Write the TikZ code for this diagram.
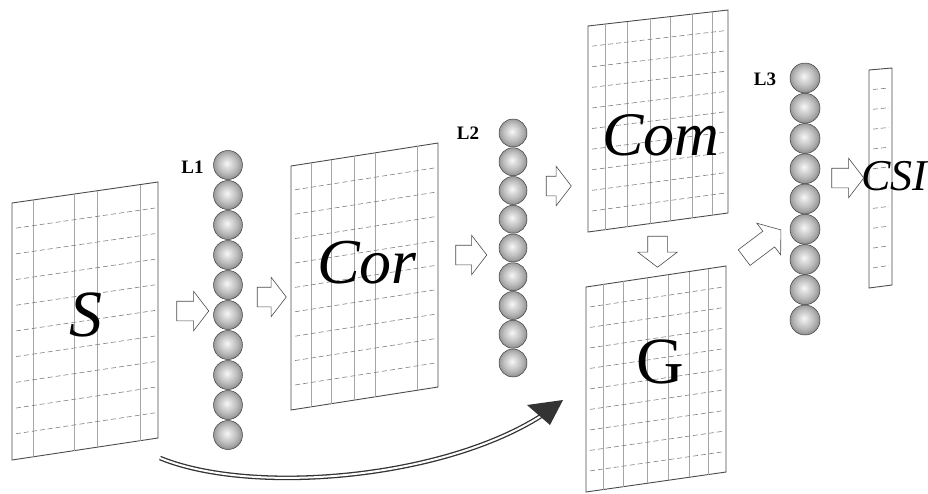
\documentclass[tikz,border=0pt]{standalone}
\usepackage{fontspec}
\newfontfamily\tnr{Liberation Serif}
\usetikzlibrary{shapes.arrows}
\pgfdeclareradialshading{sph}{\pgfpoint{-2bp}{3bp}}{%
  color(0bp)=(white!97!black);
  color(6bp)=(white!88!black);
  color(16bp)=(white!74!black);
  color(23bp)=(white!62!black);
  color(25bp)=(white!55!black);
  color(50bp)=(white!55!black)}
\tikzset{
  panel/.style={draw=gray!60!black, line width=0.9pt, fill=white},
  vline/.style={draw=gray!70, line width=0.6pt},
  hline/.style={draw=black!50, line width=0.6pt, dash pattern=on 5pt off 3pt},
  ballnode/.style={circle, inner sep=0pt, minimum size=#1, shading=sph, draw=gray!50!black, line width=0.5pt},
  harrow/.style={single arrow, draw=gray!60!black, fill=white, line width=0.6pt, inner sep=0pt,
    text height=19pt, text depth=0pt, minimum width=39pt,
    single arrow head extend=10pt, single arrow tip angle=105, single arrow head indent=0pt},
  biglab/.style={anchor=base, inner sep=0pt},
  curvearrow/.style={draw=gray!40!black, line width=1.3pt, double=white, double distance=2pt},
  curvehead/.style={fill=gray!40!black}
}
% #1 L, #2 R, #3 top-left y, #4 top-right y, #5 bottom-left y, #6 bottom-right y, #7 inner x list, #8 dashed count
\newcommand\gridpanel[8]{%
  \draw[panel] (#1,#3) -- (#2,#4) -- (#2,#6) -- (#1,#5) -- cycle;
  \foreach \vx in {#7} {
    \pgfmathsetmacro\ff{(\vx-#1)/(#2-#1)}
    \draw[vline] (\vx,{#3+\ff*(#4-#3)}) -- (\vx,{#5+\ff*(#6-#5)});
  }
  \foreach \ii in {1,...,#8} {
    \pgfmathsetmacro\ff{\ii/(#8+1)}
    \pgfmathsetmacro\slp{(#4-#3)/(#2-#1)}
    \draw[hline] (#1+4,{#3+\ff*(#5-#3)+4*\slp}) -- (#2-3,{#4+\ff*(#6-#4)-3*\slp});
  }
}
\begin{document}
\begin{tikzpicture}[x=1pt, y=-1pt]
\useasboundingbox (0,0) rectangle (928,493);

% panels
\gridpanel{12}{158}{203}{182}{460}{438}{33,74,97,140}{9}
\gridpanel{291}{438}{166}{143}{410}{387}{311,331,354,375,417}{9}
\gridpanel{588}{728}{26}{10}{232}{213}{605,627,650,670,692,712}{9}
\gridpanel{586}{726}{287}{266}{492}{472}{603,623,647,668,689,708}{9}
\gridpanel{869}{892}{70}{68}{288}{285}{}{10}

% panel labels
\node[biglab] (tS) at (86,336) {\fontsize{66}{66}\selectfont\tnr\itshape S};
\node[biglab] (tCor) at (367,283) {\fontsize{64}{64}\selectfont\tnr\itshape Cor};
\node[biglab] (tCom) at (661,155) {\fontsize{62}{62}\selectfont\tnr\itshape Com};
\node[biglab] (tG) at (660,383) {\fontsize{66}{66}\selectfont\tnr G};
\node[biglab] (tCSI) at (894,190) {\fontsize{44}{44}\selectfont\tnr\itshape CSI};

% neuron layers
\foreach \i in {0,...,9} \node[ballnode=29pt] (n1-\i) at (228,{165+30*\i}) {};
\foreach \i in {0,...,8} \node[ballnode=28pt] (n2-\i) at (513,{133+28.75*\i}) {};
\foreach \i in {0,...,8} \node[ballnode=30pt] (n3-\i) at (805,{78+30.25*\i}) {};

\node[biglab] (L1) at (192.5,173) {\fontsize{19}{19}\selectfont\tnr\bfseries L1};
\node[biglab] (L2) at (468,139) {\fontsize{19}{19}\selectfont\tnr\bfseries L2};
\node[biglab] (L3) at (765,85) {\fontsize{19}{19}\selectfont\tnr\bfseries L3};

% hollow arrows
\node[harrow, minimum height=32pt] (a1) at (189,311) {};
\node[harrow, minimum height=29pt] (a2) at (268,297) {};
\node[harrow, minimum height=31pt] (a3) at (467.5,255) {};
\node[harrow, minimum height=25pt] (a4) at (555,186) {};
\node[harrow, minimum height=31pt, rotate=-90] (a5) at (657.5,248) {};
\node[harrow, minimum height=46pt, rotate=37] (a6) at (759.5,246) {};
\node[harrow, minimum height=32pt] (a7) at (844,178) {};

% curved skip connection S -> G
\coordinate (cS) at (160,458);
\coordinate (cG) at (541,416);
\coordinate (cTip) at (563,400);
\draw[curvearrow] (cS) .. controls (250,495) and (440,480) .. (cG);
\fill[curvehead] (cTip) -- (527,405) -- (550,425) -- cycle;
\end{tikzpicture}
\end{document}
